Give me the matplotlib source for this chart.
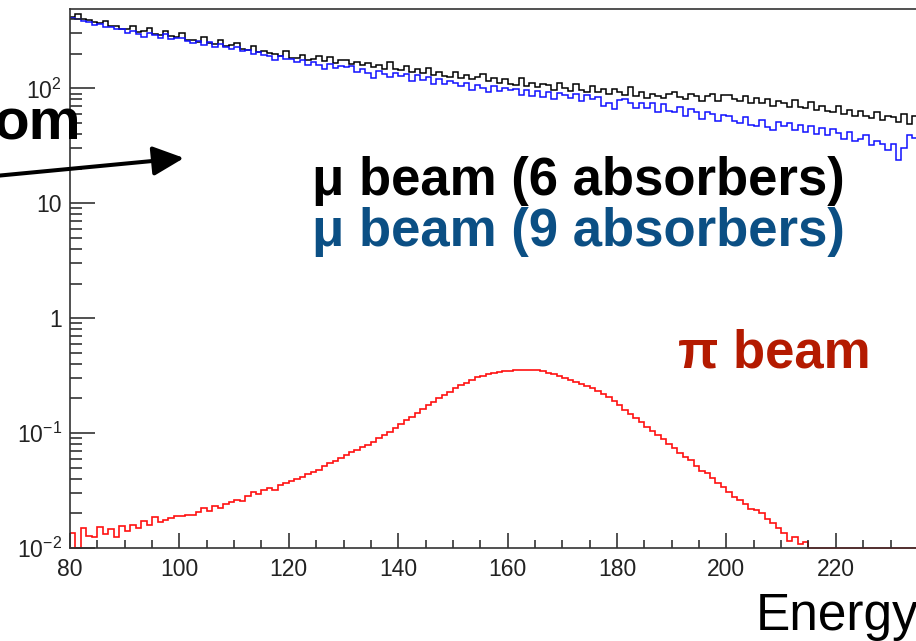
import numpy as np
import matplotlib
matplotlib.use("Agg")
import matplotlib.pyplot as plt
from matplotlib.patches import FancyArrowPatch

plt.rcParams['font.family'] = ['Liberation Sans', 'DejaVu Sans']
plt.rcParams['mathtext.fontset'] = 'custom'
plt.rcParams['mathtext.rm'] = 'Liberation Sans'
plt.rcParams['mathtext.default'] = 'regular'

# 1 GeV bins from 80 to 240
bin_edges = np.arange(80, 241, 1)

mu_6_absorbers = [
    418, 440, 400, 395, 380, 372, 385, 350, 352, 330,
    326, 348, 312, 318, 335, 298, 292, 318, 285, 280,
    300, 262, 265, 255, 282, 250, 245, 262, 232, 236,
    248, 220, 215, 235, 208, 212, 202, 198, 192, 212,
    184, 182, 195, 175, 180, 192, 172, 186, 166, 178,
    175, 162, 170, 158, 166, 152, 160, 148, 168, 146,
    145, 155, 140, 146, 135, 150, 130, 138, 128, 126,
    138, 124, 130, 120, 126, 132, 115, 122, 112, 120,
    110, 106, 124, 104, 112, 102, 110, 106, 97, 112,
    100, 95, 108, 97, 93, 104, 92, 98, 89, 98,
    92, 88, 102, 85, 92, 82, 90, 86, 82, 90,
    92, 84, 80, 90, 86, 78, 86, 90, 77, 88,
    88, 81, 77, 86, 75, 82, 74, 80, 70, 78,
    75, 69, 79, 69, 67, 76, 65, 70, 63, 62,
    70, 60, 65, 58, 64, 58, 55, 62, 53, 58,
    56, 51, 60, 49, 58, 53, 48, 53, 47, 50,
]

mu_9_absorbers = [
    412, 402, 388, 378, 356, 360, 340, 345, 325, 325,
    300, 315, 296, 282, 305, 290, 272, 296, 268, 272,
    276, 258, 250, 260, 240, 252, 228, 242, 230, 220,
    230, 210, 214, 198, 206, 196, 190, 176, 192, 180,
    180, 168, 176, 160, 170, 158, 146, 164, 150, 156,
    152, 155, 138, 148, 136, 124, 142, 132, 126, 136,
    128, 132, 116, 130, 118, 126, 110, 120, 110, 116,
    112, 104, 112, 96, 106, 100, 92, 104, 94, 100,
    96, 98, 88, 97, 86, 94, 84, 93, 80, 91,
    88, 82, 89, 78, 87, 80, 84, 70, 74, 66,
    79, 81, 74, 68, 75, 68, 74, 62, 73, 64,
    62, 69, 58, 66, 62, 54, 62, 60, 52, 59,
    58, 52, 50, 56, 48, 47, 53, 46, 43, 51,
    47, 50, 43, 48, 42, 47, 40, 45, 39, 44,
    41, 36, 42, 35, 36, 39, 32, 35, 33, 29,
    33, 24, 30, 39, 37, 33, 30, 35, 29, 32,
]

pi_beam = [
    0.0135, 0.0101, 0.0148, 0.0128, 0.0125, 0.0152, 0.0132, 0.0145, 0.0124, 0.0155,
    0.0140, 0.0160, 0.0148, 0.0172, 0.0158, 0.0185, 0.0168, 0.0176, 0.0182, 0.0190,
    0.0188, 0.0195, 0.0192, 0.0205, 0.0222, 0.0210, 0.0230, 0.0225, 0.0242, 0.0250,
    0.0262, 0.0258, 0.0285, 0.0305, 0.0296, 0.0318, 0.0330, 0.0322, 0.0350, 0.0368,
    0.0385, 0.0395, 0.0415, 0.0440, 0.0458, 0.0480, 0.0515, 0.0545, 0.0575, 0.0610,
    0.0645, 0.0680, 0.0710, 0.0750, 0.0790, 0.0835, 0.0900, 0.0960, 0.1030, 0.1110,
    0.1200, 0.1290, 0.1390, 0.1490, 0.1620, 0.1750, 0.1880, 0.2020, 0.2150, 0.2300,
    0.2480, 0.2620, 0.2750, 0.2900, 0.3050, 0.3150, 0.3250, 0.3330, 0.3380, 0.3450,
    0.3500, 0.3520, 0.3560, 0.3550, 0.3570, 0.3520, 0.3450, 0.3360, 0.3250, 0.3120,
    0.3000, 0.2900, 0.2780, 0.2650, 0.2550, 0.2450, 0.2320, 0.2200, 0.2070, 0.1900,
    0.1750, 0.1600, 0.1480, 0.1350, 0.1240, 0.1130, 0.1040, 0.0960, 0.0880, 0.0810,
    0.0740, 0.0670, 0.0620, 0.0580, 0.0520, 0.0470, 0.0450, 0.0410, 0.0370, 0.0340,
    0.0310, 0.0280, 0.0260, 0.0240, 0.0220, 0.0215, 0.0200, 0.0180, 0.0165, 0.0150,
    0.0135, 0.0115, 0.0125, 0.0108, 0.0112, 0, 0, 0, 0, 0,
    0, 0, 0, 0, 0, 0, 0, 0, 0, 0,
    0, 0, 0, 0, 0, 0, 0, 0, 0, 0,
]

y_ticks = [1e-2, 1e-1, 1, 10, 100]
y_tick_labels = ['10$^{-2}$', '10$^{-1}$', '1', '10', '10$^{2}$']

W, H = 916, 641
fig = plt.figure(figsize=(W / 100, H / 100), dpi=100)

# axes in pixel units (axis runs past the right edge of the crop)
x0, y_bottom, y_top = 70, 548, 9
px_per_gev = 5.47
xmin, xmax = 80, 250
ymin, ymax = 1e-2, 490
ax = fig.add_axes([x0 / W, (H - y_bottom) / H,
                   (xmax - xmin) * px_per_gev / W, (y_bottom - y_top) / H])

ax.stairs(mu_6_absorbers, bin_edges, baseline=None, color='black', lw=1.1)
ax.stairs(mu_9_absorbers, bin_edges, baseline=None, color='#1010ff', lw=1.1)
# empty bins are drawn on the bottom frame, like ROOT does
pi_draw = np.where(np.array(pi_beam) > 0, pi_beam, ymin)
ax.stairs(pi_draw, bin_edges, baseline=None, color='#ff1010', lw=1.2, clip_on=False)

ax.set_yscale('log')
ax.set_xlim(xmin, xmax)
ax.set_ylim(ymin, ymax)
ax.set_xticks(np.arange(80, 231, 20))
ax.set_xticks(np.arange(80, 236, 5), minor=True)
ax.set_yticks(y_ticks)
ax.set_yticklabels(y_tick_labels)

ax.tick_params(axis='both', which='both', direction='in', colors='#222222',
               labelcolor='#222222', labelsize=16.5)
ax.tick_params(axis='y', which='major', length=18, width=1.1, pad=6)
ax.tick_params(axis='y', which='minor', length=8.5, width=1.1)
ax.tick_params(axis='x', which='major', length=11, width=1.1, pad=7)
ax.tick_params(axis='x', which='minor', length=5.5, width=1.1)
for s in ax.spines.values():
    s.set_color('#333333')
    s.set_linewidth(1.2)


def fx(px):
    return px / W


def fy(py):
    return 1 - py / H


fig.text(fx(81), fy(140), 'om', fontsize=42, fontweight='bold', ha='right',
         va='baseline', color='black')
arrow = FancyArrowPatch((fx(-5), fy(176)), (fx(184), fy(158)),
                        transform=fig.transFigure,
                        arrowstyle='-|>,head_length=0.95,head_width=0.45',
                        mutation_scale=20, lw=2.9, color='black',
                        shrinkA=0, shrinkB=0)
fig.add_artist(arrow)

fig.text(fx(312), fy(195), 'μ beam (6 absorbers)', fontsize=38, fontweight='bold',
         ha='left', va='baseline', color='black')
fig.text(fx(312), fy(246), 'μ beam (9 absorbers)', fontsize=38, fontweight='bold',
         ha='left', va='baseline', color='#0b4f84')
fig.text(fx(678), fy(367), 'π beam', fontsize=38, fontweight='bold',
         ha='left', va='baseline', color='#b41a00')
fig.text(fx(756), fy(630), 'Energy', fontsize=37, ha='left', va='baseline',
         color='black')

fig.savefig('out.png', dpi=100)
